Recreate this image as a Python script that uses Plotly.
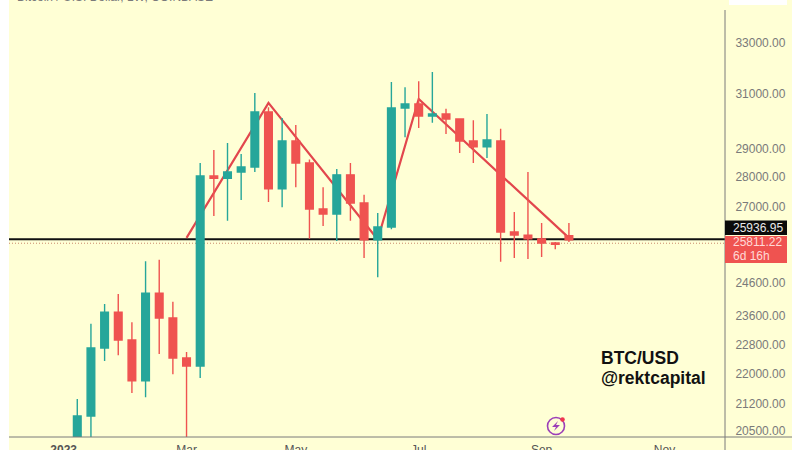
import math
import plotly.graph_objects as go

dates = ["2023-01-09","2023-01-16","2023-01-23","2023-01-30","2023-02-06","2023-02-13","2023-02-20","2023-02-27",
         "2023-03-06","2023-03-13","2023-03-20","2023-03-27","2023-04-03","2023-04-10","2023-04-17","2023-04-24",
         "2023-05-01","2023-05-08","2023-05-15","2023-05-22","2023-05-29","2023-06-05","2023-06-12","2023-06-19",
         "2023-06-26","2023-07-03","2023-07-10","2023-07-17","2023-07-24","2023-07-31","2023-08-07","2023-08-14",
         "2023-08-21","2023-08-28","2023-09-04","2023-09-11","2023-09-18"]
opens = [17100,20880,22700,23720,22920,21800,24280,23550,22420,22200,28030,27950,28170,28340,30320,27590,
         29260,28480,26920,26750,28070,27120,25920,26330,30470,30620,30170,30250,30060,29260,29050,29260,
         26170,26070,25950,25820,26050]
highs = [21320,23380,23960,24250,23430,25250,25290,24020,22590,28480,28940,29190,28800,31040,30500,30100,
         29840,28600,27650,28270,28480,27390,26790,31460,31260,31490,31850,30440,30080,30020,30250,29700,
         26820,28170,26460,25850,26460]
lows = [17000,20300,22340,22500,21480,21370,22530,21980,20100,21880,26690,26530,27220,28170,27150,26980,
        27650,25950,26360,25880,26530,25350,24760,26260,29400,29730,29920,29510,28830,28480,28660,25230,
        25350,25320,25380,25620,25850]
closes = [20880,22700,23720,22920,21800,24280,23550,22420,22200,28030,27950,28170,28340,30320,27590,29260,
          28480,26920,26750,28070,27120,25920,26330,30470,30620,30170,30250,30060,29260,29050,29300,26170,
          26070,25950,25820,25780,25920]

trend_dates = ["2023-03-06","2023-04-17","2023-06-12","2023-07-03","2023-09-18"]
trend_values = [25980,30660,25930,30810,25980]
level_dates = ["2022-12-05","2023-12-07"]
black_level = [25936.95,25936.95]
dotted_level = [25811.22,25811.22]

y_ticks = [33000,31000,29000,28000,27000,24600,23600,22800,22000,21200,20500]
y_labels = ["33000.00","31000.00","29000.00","28000.00","27000.00","24600.00","23600.00","22800.00","22000.00","21200.00","20500.00"]
x_ticks = ["2023-01-02","2023-03-06","2023-05-01","2023-07-03","2023-09-04","2023-11-06"]
x_labels = ["<b>2023</b>","Mar","May","Jul","Sep","Nov"]

W, H = 800, 450
L, R, T, B = 9, 725, 10, 437
def px(x): return (x - L) / (R - L)
def py(y): return (B - y) / (B - T)

GREEN, RED, BG, GREY = "#26a69a", "#ef5350", "#ffffd5", "#7a7a7a"
FONT = "Liberation Sans"
y_range = [math.log10(20350), math.log10(34363)]

fig = go.Figure()
fig.add_trace(go.Scatter(x=level_dates, y=black_level, mode="lines", line=dict(color="#111111", width=2), hoverinfo="skip"))
fig.add_trace(go.Scatter(x=level_dates, y=dotted_level, mode="lines", line=dict(color="#c98a6a", width=1, dash="1px 2px"), hoverinfo="skip"))
fig.add_trace(go.Scatter(x=trend_dates, y=trend_values, mode="lines", line=dict(color="#e2464d", width=2.2), hoverinfo="skip"))
fig.add_trace(go.Candlestick(
    x=dates, open=opens, high=highs, low=lows, close=closes, yaxis="y2", whiskerwidth=0,
    increasing=dict(line=dict(color=GREEN, width=1.4), fillcolor=GREEN),
    decreasing=dict(line=dict(color=RED, width=1.4), fillcolor=RED),
))

def rect(x0, y0, x1, y1, fill, layer="above"):
    return dict(type="rect", xref="paper", yref="paper", x0=px(x0), x1=px(x1), y0=py(y0), y1=py(y1),
                fillcolor=fill, line=dict(width=0), layer=layer)
def seg(x0, y0, x1, y1):
    return dict(type="line", xref="paper", yref="paper", x0=px(x0), x1=px(x1), y0=py(y0), y1=py(y1),
                line=dict(color=GREY, width=1), layer="above")
def circle(cx, cy, r, fill, line):
    return dict(type="circle", xref="paper", yref="paper", x0=px(cx-r), x1=px(cx+r), y0=py(cy+r), y1=py(cy-r),
                fillcolor=fill, line=line, layer="above")

bolt = [(558,421),(552,427),(556,427),(554,431),(560,425),(556,425)]
bolt_path = "M " + " L ".join(f"{px(a):.5f} {py(b):.5f}" for a, b in bolt) + " Z"

shapes = [
    rect(9, -5, 792, 455, BG, "below"),
    rect(729, -5, 787, 5, "#ffffff"),
    seg(9, 437, 792, 437),
    seg(725, 10, 725, 455),
    rect(725, 220.5, 787, 235, "#0b0b0b"),
    rect(725, 236, 787, 263, RED),
    circle(556, 426, 8.5, "rgba(0,0,0,0)", dict(color="#9c3fb8", width=1.6)),
    dict(type="path", xref="paper", yref="paper", path=bolt_path, fillcolor="#9c3fb8", line=dict(width=0), layer="above"),
    circle(562.5, 419.5, 2.3, "#f0364f", dict(width=0)),
]

def note(x, y, text, size, color, bold=False):
    return dict(xref="paper", yref="paper", x=px(x), y=py(y), xanchor="left", yanchor="middle", showarrow=False,
                borderpad=0, borderwidth=0,
                text=f"<b>{text}</b>" if bold else text, font=dict(family=FONT, size=size, color=color))

annotations = [
    note(733, 228, "25936.95", 12, "#e8e8e8"),
    note(733, 242, "25811.22", 12, "#ffd9d6"),
    note(733, 256, "6d 16h", 12, "#ffd9d6"),
    note(601, 357.5, "BTC/USD", 17.5, "#111111", True),
    note(601, 378, "@rektcapital", 17.5, "#111111", True),
    note(17, -3, "Bitcoin / U.S. Dollar, 1W, COINBASE", 12, GREY),
]

axis_y = dict(type="log", range=y_range, tickmode="array", tickvals=y_ticks, ticktext=y_labels, side="right",
              showgrid=False, zeroline=False, showline=False, ticks="outside", ticklen=7, tickcolor="rgba(0,0,0,0)",
              tickfont=dict(family=FONT, size=12, color=GREY))
axis_y2 = dict(type="log", range=y_range, overlaying="y", side="right", showgrid=False, zeroline=False,
               showline=False, showticklabels=False, ticks="")

fig.update_layout(
    width=W, height=H, margin=dict(l=L, r=W-R, t=T, b=H-B, autoexpand=False),
    paper_bgcolor="#ffffff", plot_bgcolor="rgba(0,0,0,0)", showlegend=False, boxgap=0.2,
    xaxis=dict(type="date", range=["2022-12-05", "2023-12-07"], rangeslider=dict(visible=False),
               tickmode="array", tickvals=x_ticks, ticktext=x_labels, showgrid=False, zeroline=False, showline=False,
               ticks="outside", ticklen=2, tickcolor="rgba(0,0,0,0)", tickfont=dict(family=FONT, size=12, color="#555555")),
    yaxis=axis_y, yaxis2=axis_y2, shapes=shapes, annotations=annotations,
    font=dict(family=FONT),
)
fig.write_html("out.html", config=dict(displayModeBar=False),
               post_script="document.body.style.margin='0';document.body.style.overflow='hidden';")
